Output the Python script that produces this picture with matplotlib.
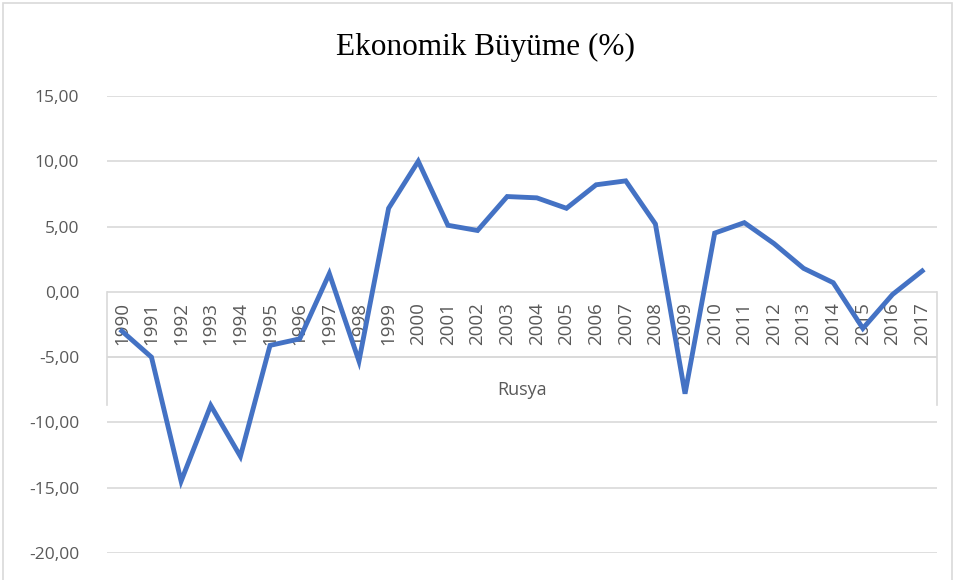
import matplotlib.pyplot as plt
from matplotlib.patches import Rectangle

# data
years = [str(y) for y in range(1990, 2018)]
growth = [-3.0, -5.0, -14.5, -8.7, -12.6, -4.1, -3.6, 1.4, -5.3, 6.4,
          10.0, 5.1, 4.7, 7.3, 7.2, 6.4, 8.2, 8.5, 5.2, -7.8,
          4.5, 5.3, 3.7, 1.8, 0.7, -2.8, -0.2, 1.6]
y_ticks = [15, 10, 5, 0, -5, -10, -15, -20]
group_label = "Rusya"
title = "Ekonomik Büyüme (%)"

W, H = 955, 580
fig = plt.figure(figsize=(W / 100, H / 100), dpi=100)
ax = fig.add_axes([107 / W, 1 - 553 / H, (937 - 107) / W, (553 - 96) / H])

grid_c = "#d9d9d9"
txt_c = "#595959"
lab_font = "Open Sans"

# outer chart border
fig.patches.append(Rectangle((3 / W, -0.05), (949 / W), 1 - 3 / H + 0.05,
                             transform=fig.transFigure, fill=False,
                             edgecolor=grid_c, lw=1.2))

n = len(years)
x = list(range(n))
ax.set_xlim(-0.5, n - 0.5)
ax.set_ylim(-20, 15)

for v in y_ticks:
    if v == 0:
        continue
    ax.axhline(v, color=grid_c, lw=1.2, zorder=1)

# multi-level category axis at 0
ax.axhline(0, color=grid_c, lw=1.2, zorder=1)
ax.plot([-0.5, n - 0.5], [-5, -5], color=grid_c, lw=1.2, zorder=1)
ax.plot([-0.5, -0.5], [0, -8.65], color=grid_c, lw=1.2, zorder=1, clip_on=False)
ax.plot([n - 0.5, n - 0.5], [0, -8.65], color=grid_c, lw=1.2, zorder=1, clip_on=False)

for i, yr in enumerate(years):
    ax.text(i, -2.45, yr, rotation=90, ha="center", va="center",
            color=txt_c, fontsize=13.5, family=lab_font, zorder=2)
ax.text((n - 1) / 2, -7.5, group_label, ha="center", va="center",
        color=txt_c, fontsize=13, family=lab_font, zorder=2)

ax.plot(x, growth, color="#4472C4", lw=3.5, zorder=3, solid_joinstyle="miter")

ax.set_yticks(y_ticks)
ax.set_yticklabels([f"{v:.2f}".replace(".", ",") for v in y_ticks],
                   color=txt_c, fontsize=12.5, family=lab_font)
ax.tick_params(axis="y", length=0, pad=20)
ax.set_xticks([])
for s in ax.spines.values():
    s.set_visible(False)

fig.text(485 / W, 1 - 47 / H, title, ha="center", va="center",
         fontsize=22.5, family="Liberation Serif", color="#000000")

fig.savefig("out.png", dpi=100)
